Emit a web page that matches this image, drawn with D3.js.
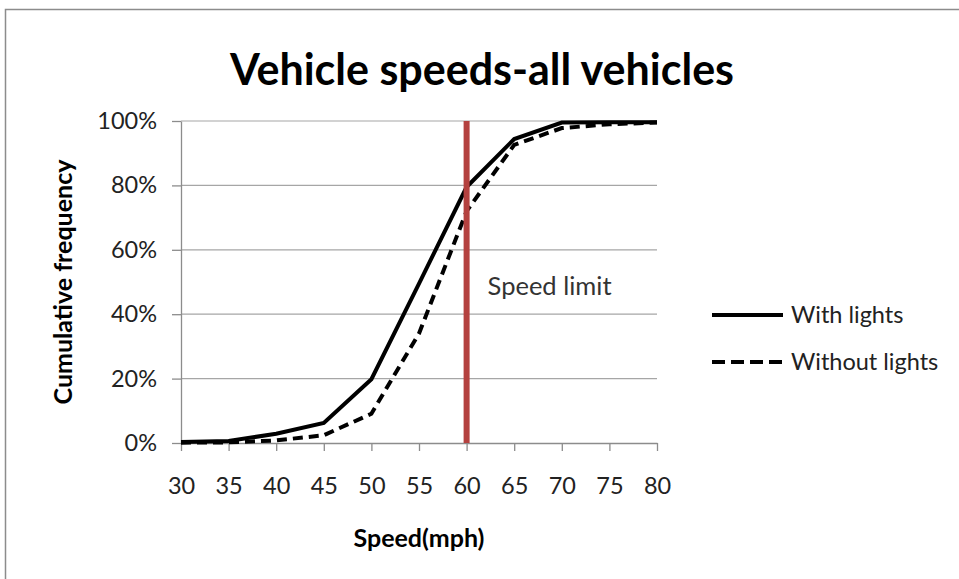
<!DOCTYPE html>
<html>
<head>
<meta charset="utf-8">
<script src="https://cdn.jsdelivr.net/npm/d3@7"></script>
<style>
  body { margin: 0; background: #fff; }
  svg { font-family: Lato, "Open Sans", sans-serif; }
</style>
</head>
<body>
<svg id="chart" width="959" height="579"></svg>
<script>
// --- Data ---
const speeds = [30, 35, 40, 45, 50, 55, 60, 65, 70, 75, 80];
const withLights = [0.3, 0.6, 2.9, 6.2, 19.8, 49.5, 79.5, 94.4, 99.5, 99.6, 99.6];
const withoutLights = [0.1, 0.2, 0.8, 2.4, 9.1, 34, 72, 92.6, 97.8, 99.0, 99.5];
const yTicks = [0, 20, 40, 60, 80, 100];
const speedLimit = 60;

const svg = d3.select("#chart");
const width = +svg.attr("width");
const height = +svg.attr("height");
const margin = { top: 121, right: 302, bottom: 136, left: 181 };

// chart frame
svg.append("rect")
  .attr("x", 5.5).attr("y", 9.5)
  .attr("width", 1000).attr("height", 1000)
  .attr("fill", "#fff")
  .attr("stroke", "#8c8c8c")
  .attr("stroke-width", 1.5);

// --- Scales ---
const x = d3.scaleLinear().domain([30, 80]).range([margin.left, width - margin.right]);
const y = d3.scaleLinear().domain([0, 100]).range([height - margin.bottom, margin.top]);

// gridlines
svg.append("g")
  .selectAll("line")
  .data(yTicks.filter(d => d > 0))
  .join("line")
  .attr("x1", x(30)).attr("x2", x(80))
  .attr("y1", d => y(d)).attr("y2", d => y(d))
  .attr("stroke", "#a6a6a6")
  .attr("stroke-width", 1.2);

// axes
const xAxis = svg.append("g")
  .attr("transform", `translate(0,${y(0)})`)
  .call(d3.axisBottom(x).tickValues(speeds).tickSize(8).tickPadding(26).tickSizeOuter(0));
const yAxis = svg.append("g")
  .attr("transform", `translate(${x(30)},0)`)
  .call(d3.axisLeft(y).tickValues(yTicks).tickSize(9).tickPadding(15)
    .tickFormat(d => d + "%").tickSizeOuter(0));

[xAxis, yAxis].forEach(g => {
  g.select(".domain").attr("stroke", "#8c8c8c").attr("stroke-width", 1.3);
  g.selectAll(".tick line").attr("stroke", "#8c8c8c").attr("stroke-width", 1.3);
  g.selectAll(".tick text").attr("font-size", 23.5).attr("fill", "#222")
    .attr("font-family", "Lato, sans-serif");
});

// --- Lines ---
const line = d3.line()
  .x((d, i) => x(speeds[i]))
  .y(d => y(d));

svg.append("path")
  .datum(withoutLights)
  .attr("fill", "none")
  .attr("stroke", "#000")
  .attr("stroke-width", 4)
  .attr("stroke-dasharray", "10 6")
  .attr("d", line);

svg.append("path")
  .datum(withLights)
  .attr("fill", "none")
  .attr("stroke", "#000")
  .attr("stroke-width", 4)
  .attr("d", line);

// speed limit marker
svg.append("line")
  .attr("x1", x(speedLimit)).attr("x2", x(speedLimit))
  .attr("y1", y(100)).attr("y2", y(0))
  .attr("stroke", "#b4413f")
  .attr("stroke-width", 6);

svg.append("text")
  .attr("x", x(speedLimit) + 21)
  .attr("y", 295)
  .attr("font-size", 25.5)
  .attr("fill", "#333")
  .text("Speed limit");

// --- Title and axis labels ---
svg.append("text")
  .attr("x", 482).attr("y", 85)
  .attr("text-anchor", "middle")
  .attr("font-size", 43)
  .attr("font-weight", "bold")
  .text("Vehicle speeds-all vehicles");

svg.append("text")
  .attr("x", (x(30) + x(80)) / 2).attr("y", 547)
  .attr("text-anchor", "middle")
  .attr("font-size", 25)
  .attr("font-weight", "bold")
  .text("Speed(mph)");

svg.append("text")
  .attr("transform", `translate(72,${(y(0) + y(100)) / 2}) rotate(-90)`)
  .attr("text-anchor", "middle")
  .attr("font-size", 25)
  .attr("font-weight", "bold")
  .text("Cumulative frequency");

// --- Legend ---
const legend = [
  { name: "With lights", dash: null, ty: 315 },
  { name: "Without lights", dash: "13 6", ty: 362 }
];
const lg = svg.append("g").selectAll("g").data(legend).join("g")
  .attr("transform", d => `translate(712,${d.ty})`);
lg.append("line")
  .attr("x1", 0).attr("x2", 71)
  .attr("stroke", "#000").attr("stroke-width", 4)
  .attr("stroke-dasharray", d => d.dash);
lg.append("text")
  .attr("x", 79).attr("dy", "0.35em")
  .attr("font-size", 23.5)
  .attr("fill", "#222")
  .text(d => d.name);
</script>
</body>
</html>
